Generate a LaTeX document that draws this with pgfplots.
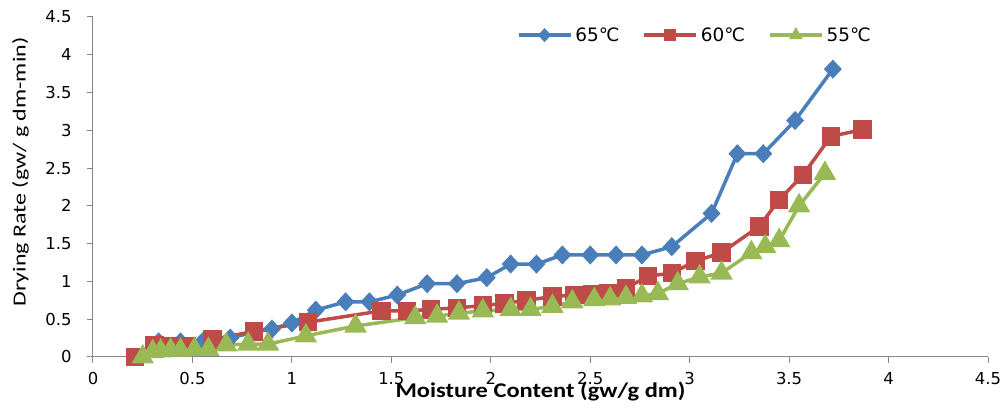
\documentclass[border=0pt]{standalone}
\usepackage{fontspec}
\setmainfont{Carlito}
\newfontfamily\dvs{DejaVu Sans}
\newfontfamily\ylabfont[FakeStretch=1.3]{Carlito}
\newfontfamily\xlabfont[FakeStretch=1.17]{Carlito Bold}
\usepackage{pgfplots}
\pgfplotsset{compat=1.18}
\usetikzlibrary{calc}
\definecolor{c65}{HTML}{4A7EBB}
\definecolor{c60}{HTML}{BE4B48}
\definecolor{c55}{HTML}{98B954}
\definecolor{axgray}{HTML}{868686}
\begin{document}
\begin{tikzpicture}
\begin{axis}[
  name=ax,
  scale only axis,
  width=895bp, height=340bp,
  xmin=0, xmax=4.5, ymin=0, ymax=4.5,
  xtick={0,0.5,...,4.5}, ytick={0,0.5,...,4.5},
  axis x line*=bottom, axis y line*=left,
  axis line style={axgray, line width=1bp, -},
  tick style={axgray, line width=1bp},
  tick align=outside, major tick length=6bp,
  clip=false,
  /pgf/number format/assume math mode=true,
  xticklabel style={font=\dvs\fontsize{16.5}{18}\selectfont, yshift=-6bp},
  yticklabel style={font=\dvs\fontsize{16.5}{18}\selectfont, xshift=-12bp},
  xlabel={\xlabfont\fontsize{21}{24}\selectfont Moisture Content (gw/g dm)},
  xlabel style={at={(rel axis cs:0.5,0)}, anchor=base, yshift=-41bp, inner sep=0pt},
  ylabel={\ylabfont\fontsize{18.5}{22}\selectfont Drying Rate (gw/ g dm-min)},
  ylabel style={at={(rel axis cs:0,0.544)}, anchor=center, yshift=72.5bp, inner sep=0pt},
  legend columns=3,
  legend style={at={(axis cs:2.13,4.26)}, anchor=west, draw=none, fill=none,
    font=\dvs\fontsize{18.5}{20}\selectfont, inner sep=0pt,
    /tikz/every even column/.append style={column sep=20bp},
    nodes={inner sep=3bp}},
  legend image code/.code={\draw[mark repeat=2,mark phase=2,mark size=4.5bp] plot coordinates {(0bp,0bp) (26bp,0bp) (52bp,0bp)};},
]
\addplot[c65, line width=3.5bp, mark=diamond*, mark size=7bp, mark options={xscale=1.25}] coordinates {
(0.33,0.20) (0.44,0.20) (0.55,0.20) (0.69,0.25) (0.81,0.33) (0.90,0.37) (1.00,0.45)
(1.12,0.62) (1.27,0.73) (1.39,0.73) (1.53,0.82) (1.68,0.97) (1.83,0.97) (1.98,1.05)
(2.10,1.23) (2.23,1.23) (2.36,1.35) (2.50,1.35) (2.63,1.35) (2.76,1.35) (2.91,1.46)
(3.11,1.90) (3.24,2.69) (3.37,2.69) (3.53,3.13) (3.72,3.81)};
\addlegendentry{65℃}
\addplot[c60, line width=3.5bp, mark=square*, mark size=7.5bp] coordinates {
(0.21,0.00) (0.31,0.15) (0.39,0.14) (0.47,0.14) (0.60,0.23) (0.81,0.34) (1.08,0.46)
(1.45,0.61) (1.58,0.61) (1.70,0.63) (1.83,0.65) (1.96,0.68) (2.07,0.71) (2.18,0.75)
(2.31,0.80) (2.42,0.82) (2.51,0.83) (2.59,0.85) (2.68,0.91) (2.79,1.07) (2.91,1.11)
(3.03,1.27) (3.16,1.38) (3.35,1.73) (3.45,2.08) (3.57,2.41) (3.71,2.92) (3.87,3.01)};
\addlegendentry{60℃}
\addplot[c55, line width=3.5bp, mark=triangle*, mark size=9.5bp] coordinates {
(0.25,0.00) (0.30,0.07) (0.34,0.08) (0.39,0.09) (0.44,0.09) (0.51,0.10) (0.58,0.10)
(0.67,0.16) (0.78,0.17) (0.88,0.17) (1.07,0.28) (1.32,0.41) (1.62,0.52) (1.73,0.54)
(1.84,0.58) (1.96,0.61) (2.10,0.63) (2.20,0.63) (2.31,0.67) (2.41,0.73) (2.52,0.76)
(2.60,0.77) (2.68,0.79) (2.76,0.81) (2.84,0.84) (2.94,0.97) (3.05,1.06) (3.16,1.11)
(3.31,1.38) (3.38,1.46) (3.45,1.54) (3.55,2.00) (3.68,2.43)};
\addlegendentry{55℃}
\end{axis}
\pgfresetboundingbox
\path ($(ax.south west)+(-93bp,-55bp)$) rectangle ($(ax.north east)+(17bp,17bp)$);
\end{tikzpicture}
\end{document}
